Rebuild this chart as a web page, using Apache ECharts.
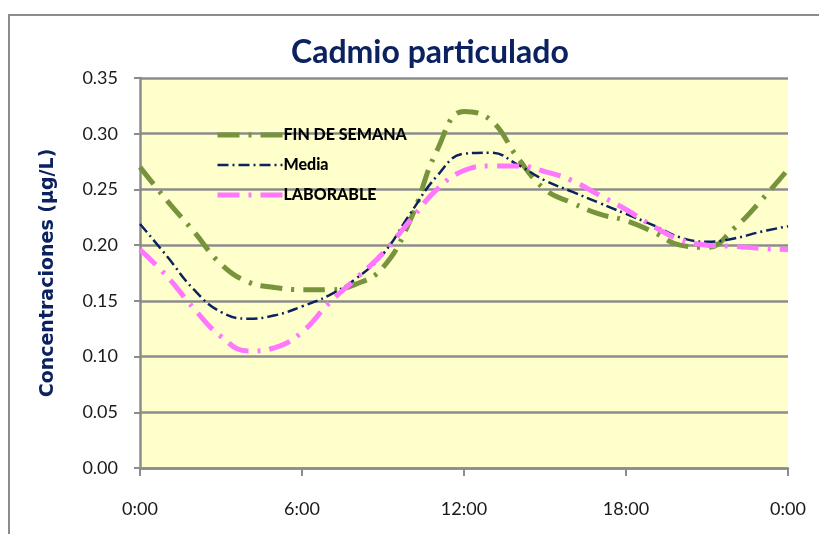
<!DOCTYPE html>
<html>
<head>
<meta charset="utf-8">
<script src="https://cdn.jsdelivr.net/npm/echarts@6/dist/echarts.min.js"></script>
<style>
  html, body { margin: 0; padding: 0; background: #fff; }
  #chart { width: 819px; height: 534px; }
</style>
</head>
<body>
<div id="chart"></div>
<script>
// horas del día (0 a 24)
const hours = [0, 1, 2, 3, 4, 5, 6, 7, 8, 9, 10, 11, 12, 13, 14, 15, 16, 17, 18, 19, 20, 21, 22, 23, 24]

// concentraciones (µg/L)
const finDeSemana = [0.270, 0.240, 0.212, 0.183, 0.167, 0.162, 0.160, 0.160, 0.165, 0.180, 0.222, 0.285, 0.320,
  0.312, 0.278, 0.250, 0.238, 0.228, 0.222, 0.212, 0.200, 0.198, 0.215, 0.240, 0.268]
const media = [0.219, 0.190, 0.160, 0.140, 0.134, 0.137, 0.145, 0.155, 0.170, 0.192, 0.228, 0.262, 0.282,
  0.283, 0.272, 0.258, 0.248, 0.238, 0.228, 0.218, 0.207, 0.203, 0.206, 0.212, 0.217]
const laborable = [0.196, 0.172, 0.143, 0.118, 0.105, 0.108, 0.122, 0.148, 0.170, 0.193, 0.222, 0.250, 0.267,
  0.271, 0.271, 0.266, 0.258, 0.245, 0.232, 0.217, 0.205, 0.200, 0.199, 0.197, 0.196]

const toPairs = vals => hours.map((h, i) => [h, vals[i]])

const theme = {
  navy: '#0b2160',
  grid: '#8c8c8c',
  plotBg: '#ffffcc',
  text: '#1a1a1a',
  font: 'Lato'
}

const chart = echarts.init(document.getElementById('chart'))
chart.setOption({
  animation: false,
  graphic: [
    {
      type: 'rect',
      shape: { x: 9, y: 15, width: 830, height: 540 },
      style: { fill: 'none', stroke: theme.grid, lineWidth: 2 },
      z: -1
    }
  ],
  title: {
    text: 'Cadmio particulado',
    left: 286,
    top: 32,
    textStyle: {
      color: theme.navy,
      fontFamily: theme.font,
      fontWeight: 'bold',
      fontSize: 32
    }
  },
  legend: {
    orient: 'vertical',
    left: 210,
    top: 122,
    itemWidth: 65,
    itemHeight: 14,
    itemGap: 14,
    itemStyle: { opacity: 0 },
    lineStyle: { width: 'inherit' },
    textStyle: { color: '#000', fontFamily: theme.font, fontWeight: 900, fontSize: 16, padding: [0, 0, 0, -4] },
    data: ['FIN DE SEMANA', 'Media', 'LABORABLE']
  },
  grid: { left: 140, right: 31, top: 78, bottom: 66, backgroundColor: theme.plotBg, show: true, borderWidth: 0 },
  xAxis: {
    type: 'value',
    min: 0,
    max: 24,
    interval: 6,
    axisLine: { show: true, lineStyle: { color: theme.grid, width: 2.5 } },
    axisTick: { show: true, length: 8, lineStyle: { color: theme.grid, width: 2 } },
    axisLabel: {
      margin: 32,
      color: theme.text,
      fontFamily: theme.font,
      fontSize: 18,
      formatter: v => (v % 24) + ':00'
    },
    splitLine: { show: false }
  },
  yAxis: {
    type: 'value',
    min: 0,
    max: 0.35,
    interval: 0.05,
    name: 'Concentraciones (µg/L)',
    nameLocation: 'middle',
    nameGap: 82,
    nameTextStyle: { color: theme.navy, fontFamily: 'DejaVu Sans', fontWeight: 'bold', fontSize: 19 },
    axisLine: { show: true, lineStyle: { color: theme.grid, width: 2.5 } },
    axisTick: { show: true, length: 6, lineStyle: { color: theme.grid, width: 2 } },
    axisLabel: {
      margin: 22,
      color: theme.text,
      fontFamily: theme.font,
      fontSize: 18,
      formatter: v => v.toFixed(2)
    },
    splitLine: { lineStyle: { color: theme.grid, width: 2.5 } }
  },
  series: [
    {
      name: 'FIN DE SEMANA',
      type: 'line',
      smooth: 0.45,
      symbol: 'none',
      data: toPairs(finDeSemana),
      itemStyle: { color: '#77933c' },
      lineStyle: { color: '#77933c', width: 5, type: [22, 9, 3, 9] }
    },
    {
      name: 'Media',
      type: 'line',
      smooth: 0.45,
      symbol: 'none',
      data: toPairs(media),
      itemStyle: { color: theme.navy },
      lineStyle: { color: theme.navy, width: 2.5, type: [11, 4, 2, 4] }
    },
    {
      name: 'LABORABLE',
      type: 'line',
      smooth: 0.45,
      symbol: 'none',
      data: toPairs(laborable),
      itemStyle: { color: '#ff77ff' },
      lineStyle: { color: '#ff77ff', width: 5, type: [22, 9, 3, 9] }
    }
  ]
})
</script>
</body>
</html>
